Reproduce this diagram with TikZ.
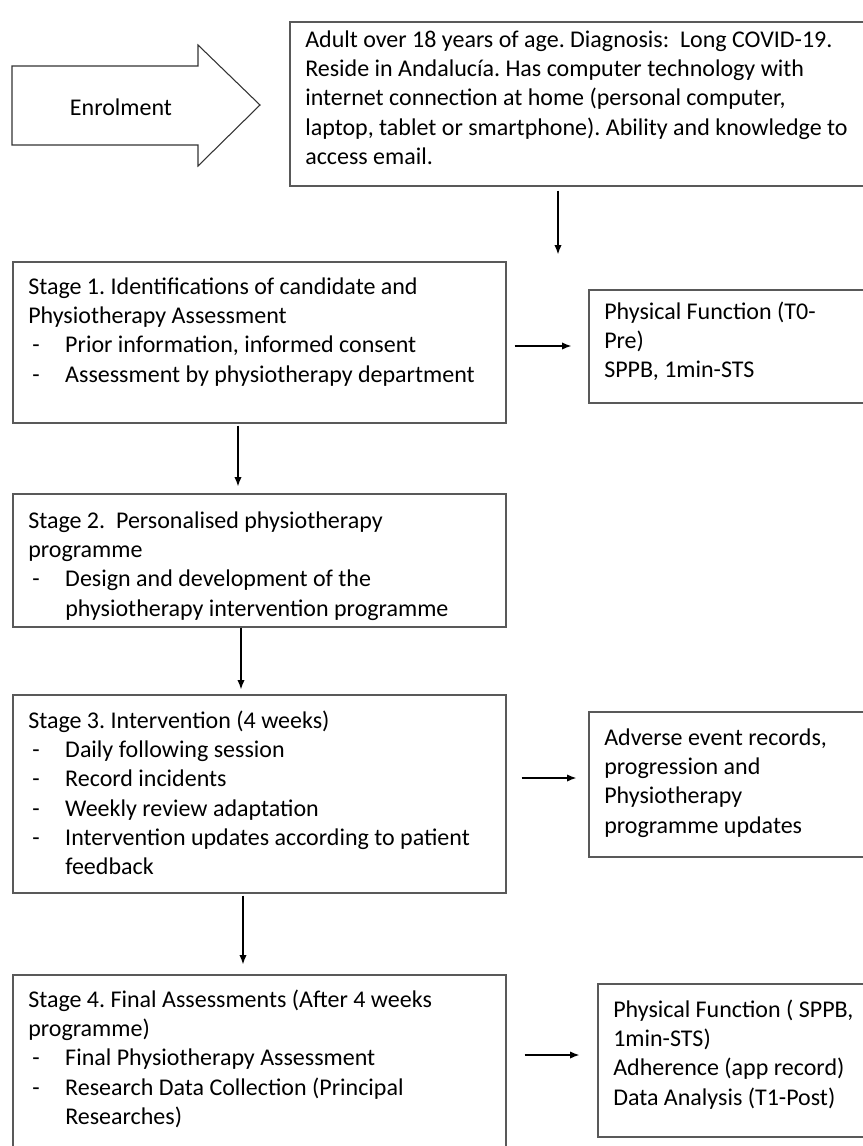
\documentclass[tikz,border=0pt]{standalone}
\usepackage{fontspec}
\setmainfont{Carlito}
\usetikzlibrary{fit,arrows.meta}
\frenchspacing
\newcommand\dl[1]{\hspace*{3pt}\makebox[24.75pt][l]{-}#1}
\newcommand\ind{\hspace*{27.75pt}}
\newcommand\st{\rule{0pt}{15pt}}
\begin{document}
\begin{tikzpicture}[x=0.75pt,y=-0.75pt,
  box/.style={draw=black!65, line width=0.9pt, inner sep=0pt, fill=white},
  txt/.style={anchor=north west, inner sep=0pt, align=left, font=\fontsize{18}{22}\selectfont\frenchspacing},
  arr/.style={draw=black, line width=1.1pt, -{Latex[length=7pt,width=5.5pt]}}]
\useasboundingbox (0,0) rectangle (863,1146);
\clip (0,0) rectangle (863,1146);
\fill[white] (0,0) rectangle (863,1146);

% enrolment arrow
\draw[black!80, line width=0.8pt, fill=white] (12,66) -- (198,66) -- (198,45) -- (260,105) -- (198,166) -- (198,145) -- (12,145) -- cycle;
\node[font=\fontsize{18}{22}\selectfont, inner sep=0pt] (enr) at (121,107) {Enrolment};

% boxes
\node[box, fit={(290,22) (880,186)}] (top) {};
\node[box, fit={(13,262) (506,423)}] (s1) {};
\node[box, fit={(589,290) (880,403)}] (pf) {};
\node[box, fit={(13,494) (506,627)}] (s2) {};
\node[box, fit={(13,695) (506,893)}] (s3) {};
\node[box, fit={(589,712) (880,857)}] (adv) {};
\node[box, fit={(13,975) (506,1165)}] (s4) {};
\node[box, fit={(598,984) (880,1137)}] (fin) {};

% texts
\node[txt] (ttop) at (305,27) {\st Adult over 18 years of age. Diagnosis:\ \ Long COVID-19.\\
Reside in Andalucía. Has computer technology with\\
internet connection at home (personal computer,\\
laptop, tablet or smartphone). Ability and knowledge to\\
access email.};
\node[txt] (ts1) at (28,274) {\st Stage 1. Identifications of candidate and\\
Physiotherapy Assessment\\
\dl{Prior information, informed consent}\\
\dl{Assessment by physiotherapy department}};
\node[txt] (tpf) at (604,299) {\st Physical Function (T0-\\
Pre)\\
SPPB, 1min-STS};
\node[txt] (ts2) at (28,508) {\st Stage 2.\ \ Personalised physiotherapy\\
programme\\
\dl{Design and development of the}\\
\ind physiotherapy intervention programme};
\node[txt] (ts3) at (28,708) {\st Stage 3. Intervention (4 weeks)\\
\dl{Daily following session}\\
\dl{Record incidents}\\
\dl{Weekly review adaptation}\\
\dl{Intervention updates according to patient}\\
\ind feedback};
\node[txt] (tadv) at (604,725) {\st Adverse event records,\\
progression and\\
Physiotherapy\\
programme updates};
\node[txt] (ts4) at (28,987) {\st Stage 4. Final Assessments (After 4 weeks\\
programme)\\
\dl{Final Physiotherapy Assessment}\\
\dl{Research Data Collection (Principal}\\
\ind Researches)};
\node[txt] (tfin) at (613,997) {\st Physical Function ( SPPB,\\
1min-STS)\\
Adherence (app record)\\
Data Analysis (T1-Post)};

% guide coordinates for connector positions
\coordinate (x1) at (558,0);
\coordinate (x2) at (238,0);
\coordinate (x3) at (241,0);
\coordinate (x4) at (243,0);
\coordinate (y1) at (0,346);
\coordinate (y2) at (0,778);
\coordinate (y3) at (0,1055);

% connectors
\draw[arr, shorten <=3pt, shorten >=5.25pt] (x1 |- top.south) -- (x1 |- s1.north);
\draw[arr, shorten <=6pt, shorten >=12.75pt] (s1.east |- y1) -- (pf.west |- y1);
\draw[arr, shorten <=1.5pt, shorten >=5.25pt] (x2 |- s1.south) -- (x2 |- s2.north);
\draw[arr, shorten >=3.75pt] (x3 |- s2.south) -- (x3 |- s3.north);
\draw[arr, shorten <=11.25pt, shorten >=9pt] (s3.east |- y2) -- (adv.west |- y2);
\draw[arr, shorten <=1.5pt, shorten >=7.5pt] (x4 |- s3.south) -- (x4 |- s4.north);
\draw[arr, shorten <=13.5pt, shorten >=13.5pt] (s4.east |- y3) -- (fin.west |- y3);
\end{tikzpicture}
\end{document}
